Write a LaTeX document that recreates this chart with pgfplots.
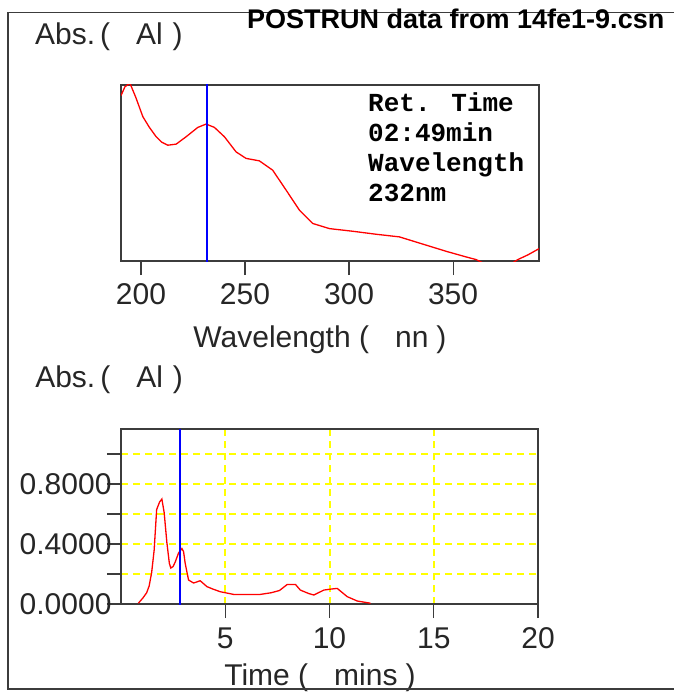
\documentclass[border=0pt]{standalone}
\usepackage{fontspec}
\setmainfont{Liberation Sans}
\newfontfamily\monofont{Liberation Mono}
\usepackage{pgfplots}
\usepackage{pgfplotstable}
\pgfplotsset{compat=1.18}
\definecolor{pyellow}{RGB}{255,255,0}
\definecolor{pred}{RGB}{255,0,0}
\definecolor{pblue}{RGB}{0,0,255}
\definecolor{fcol}{RGB}{60,60,60}

\pgfplotstableread{
wl a
190.4 0.94
192.3 0.99
194.7 1.01
197.5 0.93
200.9 0.82
204.0 0.76
207.3 0.706
210.0 0.675
212.9 0.658
216.9 0.664
221.7 0.706
227.3 0.759
231.3 0.778
235.3 0.759
240.1 0.706
245.7 0.62
250.5 0.583
256.9 0.569
263.3 0.516
269.8 0.402
276.2 0.288
282.6 0.213
290.6 0.184
301.8 0.169
313.0 0.152
324.2 0.137
333.8 0.102
346.7 0.055
356.3 0.023
361.1 0.008
366.0 -0.02
372.0 -0.035
378.0 -0.015
381.1 0.008
386.0 0.035
391.3 0.07
}\spectrum

\pgfplotstableread{
t a
0.83 0.005
1.05 0.04
1.23 0.075
1.35 0.12
1.47 0.21
1.59 0.36
1.71 0.63
1.85 0.68
1.96 0.70
2.07 0.61
2.20 0.41
2.32 0.27
2.39 0.24
2.50 0.25
2.60 0.28
2.76 0.34
2.92 0.37
3.00 0.35
3.08 0.27
3.24 0.16
3.48 0.14
3.80 0.155
4.12 0.116
4.40 0.10
4.76 0.082
5.40 0.064
6.68 0.064
7.20 0.075
7.60 0.09
7.97 0.13
8.37 0.13
8.60 0.093
9.00 0.07
9.25 0.06
9.73 0.093
10.10 0.10
10.37 0.104
10.85 0.049
11.33 0.02
11.97 0.005
}\chrom

\begin{document}
\begin{tikzpicture}[x=1pt,y=1pt]
\path[use as bounding box] (0,0) rectangle (674,-692);
\pgfplotsset{
  myax/.style={
    scale only axis,
    axis line style={fcol, line width=1.3pt},
    tick style={fcol, line width=1.1pt},
    tick align=outside,
    /pgf/number format/assume math mode=true,
    ticklabel style={font=\fontsize{30}{30}\selectfont, text=black!85},
    xtick pos=bottom, ytick pos=left,
    clip=true,
  }
}
% top: spectrum
\begin{axis}[myax,
  at={(121pt,-261pt)}, anchor=south west,
  width=418pt, height=176pt,
  major tick length=14pt,
  xmin=190.4, xmax=391.3, ymin=0, ymax=1,
  xtick={200,250,300,350}, ytick=\empty,
  xticklabel style={anchor=north, yshift=-5pt},
  xlabel={Wavelength (\hspace{26pt}nn\hspace{8pt})},
  every axis x label/.style={at={(axis description cs:0.476,-0.489)}, anchor=base, font=\fontsize{30}{30}\selectfont, text=black!85},
  ylabel={Abs.\,(\hspace{26pt}Al\hspace{10pt})},
  every axis y label/.style={at={(axis description cs:-0.214,1.229)}, anchor=base west, font=\fontsize{30}{30}\selectfont, text=black!85},
]
\addplot[pred, line width=1.3pt] table[x=wl, y=a] {\spectrum};
\addplot[draw=pblue, line width=1.6pt] coordinates {(231.7,-0.1) (231.7,1.1)};
\node[anchor=north west, align=left, inner sep=0pt,
  font=\monofont\bfseries\fontsize{26}{30}\selectfont]
  at (rel axis cs:0.591,0.955)
  {Ret. Time\\02:49min\\Wavelength\\232nm};
\end{axis}
% bottom: chromatogram
\begin{axis}[myax,
  at={(121pt,-604pt)}, anchor=south west,
  width=417pt, height=175pt,
  major tick length=14pt,
  xmin=0, xmax=20, ymin=0, ymax=1.167,
  xtick={5,10,15,20},
  ytick={0,0.2,0.4,0.6,0.8,1.0},
  yticklabels={0.0000,{},0.4000,{},0.8000,{}},
  xticklabel style={anchor=north, yshift=-6pt},
  yticklabel style={anchor=east, xshift=8pt},
  xmajorgrids=true, ymajorgrids=true,
  major grid style={draw=pyellow, line width=2pt, dash pattern=on 7pt off 5pt},
  x grid style={draw=pyellow, line width=2pt, dash pattern=on 7pt off 5pt},
  y grid style={draw=pyellow, line width=1.8pt, dash pattern=on 7pt off 5pt},
  xlabel={Time (\hspace{26pt}mins\hspace{8pt})},
  every axis x label/.style={at={(axis description cs:0.477,-0.463)}, anchor=base, font=\fontsize{30}{30}\selectfont, text=black!85},
  ylabel={Abs.\,(\hspace{26pt}Al\hspace{10pt})},
  every axis y label/.style={at={(axis description cs:-0.214,1.24)}, anchor=base west, font=\fontsize{30}{30}\selectfont, text=black!85},
]
\addplot[pred, line width=1.3pt] table[x=t, y=a] {\chrom};
\addplot[draw=pblue, line width=1.6pt] coordinates {(2.817,-0.1) (2.817,1.3)};
\end{axis}
% outer frame
\draw[fcol, line width=1.5pt] (674,-12.7) -- (8,-12.7) -- (8,-689) -- (674,-689);
\node[anchor=base west, inner sep=0pt, font=\bfseries\fontsize{27}{27}\selectfont]
  at (247,-29) {POSTRUN data from 14fe1-9.csn};
\end{tikzpicture}
\end{document}
